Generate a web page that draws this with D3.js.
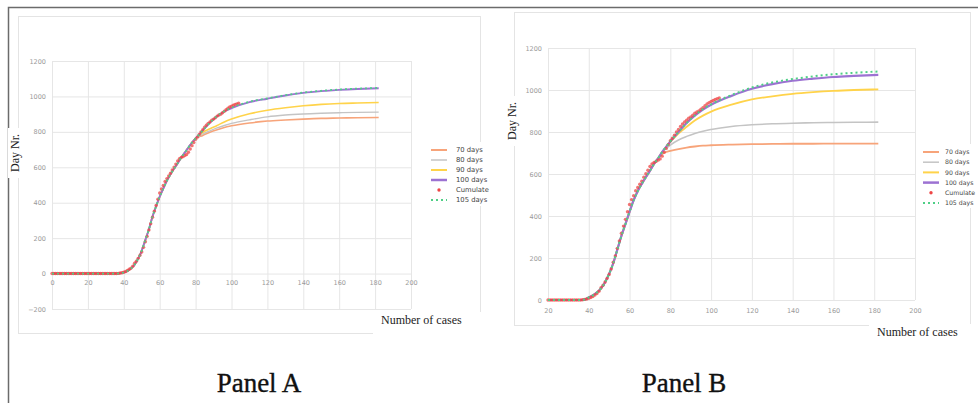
<!DOCTYPE html>
<html>
<head>
<meta charset="utf-8">
<script src="https://cdn.jsdelivr.net/npm/d3@7"></script>
<style>
  body { margin: 0; background: #fff; }
  svg { display: block; }
</style>
</head>
<body>
<svg id="chart"></svg>
<script>
// ---- data ----
const legendLabels = ['70 days', '80 days', '90 days', '100 days', 'Cumulate', '105 days'];

// panel A fitted curves (shared rise, then the tails split up)
const daysA = [0, 20, 36, 38, 40, 42, 44, 46, 48, 50, 52, 54, 56, 58, 60, 62, 64, 66, 68, 70, 72, 74, 76, 78, 80,
  84, 88, 92, 96, 100, 110, 120, 130, 140, 150, 160, 170, 182];
const riseA = [0, 0, 0, 2, 6, 14, 28, 50, 84, 130, 190, 250, 322, 380, 434, 480, 523, 560, 592, 622, 655, 683, 712, 740, 763];
const orangeA = riseA.concat([780, 798, 812, 825, 834, 850, 861, 867, 872, 876, 878, 880, 881]);
const grayA = riseA.concat([788, 806, 822, 836, 848, 868, 885, 895, 901, 905, 908, 910, 911]);
const yellowA = riseA.concat([797, 818, 836, 856, 872, 902, 922, 936, 947, 955, 960, 963, 966]);
const purpleA = riseA.concat([808, 852, 888, 915, 934, 968, 987, 1005, 1020, 1030, 1037, 1042, 1046]);
const greenA = riseA.concat([808, 852, 889, 916, 936, 970, 989, 1007, 1022, 1032, 1039, 1044, 1048]);

// panel B fitted curves
const daysB = [20, 30, 36, 38, 40, 42, 44, 46, 48, 50, 52, 54, 56, 58, 60, 62, 64, 66, 68, 70, 72, 74,
  76, 78, 80, 84, 88, 92, 96, 100, 110, 120, 130, 140, 150, 160, 170, 182];
const riseB = [0, 0, 0, 2, 12, 22, 36, 55, 85, 125, 175, 240, 305, 362, 420, 475, 518, 553, 585, 615, 648, 675];
const orangeB = riseB.concat([695, 705, 710, 719, 726, 731, 735, 737, 740, 742, 743, 744, 744, 745, 745, 745]);
const grayB = riseB.concat([702, 722, 738, 762, 779, 793, 804, 812, 826, 834, 839, 842, 844, 845, 846, 847]);
const yellowB = riseB.concat([705, 730, 753, 793, 825, 855, 878, 897, 930, 955, 970, 982, 990, 996, 1000, 1003]);
const purpleB = riseB.concat([705, 730, 755, 800, 843, 878, 907, 930, 972, 1006, 1028, 1044, 1054, 1062, 1067, 1072]);
const greenB = riseB.concat([705, 730, 755, 800, 843, 879, 909, 932, 976, 1012, 1036, 1052, 1065, 1075, 1082, 1088]);

// observed cumulative values, one per day starting at day 0
const cumulate = [0, 0, 0, 0, 0, 0, 0, 0, 0, 0, 0, 0, 0, 0, 0, 0, 0, 0, 0, 0,
  0, 0, 0, 0, 0, 0, 0, 0, 0, 0, 0, 0, 0, 0, 0, 0, 0, 1, 3, 5,
  8, 12, 17, 24, 31, 42, 58, 70, 86, 103, 122, 148, 180, 210, 246, 281, 318, 352, 384, 420,
  455, 478, 497, 520, 536, 551, 566, 585, 601, 618, 636, 648, 655, 660, 666, 672, 685, 703, 722, 740,
  758, 770, 785, 800, 812, 826, 838, 848, 856, 866, 872, 880, 889, 895, 900, 908, 916, 925, 933, 940,
  945, 950, 955, 958, 962];

const xTicksA = d3.range(0, 201, 20);
const xTicksB = d3.range(20, 201, 20);
const yTicksA = d3.range(-200, 1201, 200);
const yTicksB = d3.range(0, 1201, 200);

const colors = { orange: '#f7a47a', gray: '#c4c4c4', yellow: '#ffd34a', purple: '#9c72d2', red: '#ee4646', green: '#4fcf86' };

const width = 978, height = 403;
const svg = d3.select('#chart').attr('width', width).attr('height', height);

// outer frame (top + left edge)
svg.append('path').attr('d', `M8.5,${height} V7.5 H${width}`)
  .attr('fill', 'none').attr('stroke', '#6b6b6b').attr('stroke-width', 1.5);

function drawPanel(p) {
  const g = svg.append('g');
  const x = d3.scaleLinear().domain(p.xDomain).range([p.left, p.right]);
  const y = d3.scaleLinear().domain(p.yDomain).range([p.bottom, p.top]);

  // chart box
  g.append('rect').attr('x', p.box[0] + 0.5).attr('y', p.box[1] + 0.5)
    .attr('width', p.box[2] - p.box[0]).attr('height', p.box[3] - p.box[1])
    .attr('fill', '#fff').attr('stroke', '#e4e4e4');

  // grid
  g.append('g').attr('transform', `translate(0,${p.bottom})`)
    .call(d3.axisBottom(x).tickValues(p.xTicks).tickSize(-(p.bottom - p.top)).tickFormat(''))
    .call((a) => a.select('.domain').remove())
    .selectAll('line').attr('stroke', '#e6e6e6');
  g.append('g').attr('transform', `translate(${p.left},0)`)
    .call(d3.axisLeft(y).tickValues(p.yTicks).tickSize(-(p.right - p.left)).tickFormat(''))
    .call((a) => a.select('.domain').remove())
    .selectAll('line').attr('stroke', '#e6e6e6');

  // tick labels (x labels sit under the zero line, Excel style)
  const xl = g.append('g').attr('transform', `translate(0,${y(0)})`)
    .call(d3.axisBottom(x).tickValues(p.xTicks).tickSize(0).tickPadding(p.xPad).tickFormat(d3.format('d')));
  const yl = g.append('g').attr('transform', `translate(${p.left},0)`)
    .call(d3.axisLeft(y).tickValues(p.yTicks).tickSize(0).tickPadding(6).tickFormat(d3.format('d')));
  [xl, yl].forEach((a) => {
    a.select('.domain').remove();
    a.selectAll('text').attr('fill', '#9a9a9a').style('font-family', 'DejaVu Sans, sans-serif').style('font-size', '6.5px');
  });

  const line = d3.line().x((d) => x(d[0])).y((d) => y(d[1])).curve(d3.curveMonotoneX);
  const series = [
    { vals: p.orange, color: colors.orange, w: p.lw },
    { vals: p.gray, color: colors.gray, w: p.lw * 0.85 },
    { vals: p.yellow, color: colors.yellow, w: p.lw },
    { vals: p.purple, color: colors.purple, w: p.lw * 1.2 },
  ];
  series.forEach((s) => {
    g.append('path').datum(p.days.map((d, i) => [d, s.vals[i]]))
      .attr('d', line).attr('fill', 'none').attr('stroke', s.color).attr('stroke-width', s.w);
  });

  // cumulate dots
  const pts = cumulate.map((v, i) => [i, v]).filter((d) => d[0] >= p.xDomain[0]);
  g.append('g').selectAll('circle').data(pts).join('circle')
    .attr('cx', (d) => x(d[0])).attr('cy', (d) => y(d[1])).attr('r', 1.7)
    .attr('fill', colors.red).attr('opacity', 0.75);

  // 105 days, dashed on top
  g.append('path').datum(p.days.map((d, i) => [d, p.green[i]]))
    .attr('d', line).attr('fill', 'none').attr('stroke', colors.green)
    .attr('stroke-width', p.lw * 1.1).attr('stroke-dasharray', '2,3');

  // axis titles with white patches behind them
  g.append('rect').attr('x', p.yTitle[0] - 7).attr('y', p.yTitle[1] - 25).attr('width', 14).attr('height', 50).attr('fill', '#fff');
  g.append('text').attr('transform', `translate(${p.yTitle[0] + 4},${p.yTitle[1]}) rotate(-90)`)
    .attr('text-anchor', 'middle').text('Day Nr.')
    .style('font-family', 'Liberation Serif, serif').style('font-size', '12px').attr('fill', '#222');
  g.append('rect').attr('x', p.xTitle[0] - 8).attr('y', p.xTitle[1] - 12).attr('width', 110).attr('height', 30).attr('fill', '#fff');
  g.append('text').attr('x', p.xTitle[0]).attr('y', p.xTitle[1]).text('Number of cases')
    .style('font-family', 'Liberation Serif, serif').style('font-size', '12px').attr('fill', '#222');

  // legend
  const lg = g.append('g').attr('transform', `translate(${p.legend[0]},${p.legend[1]})`);
  lg.append('rect').attr('x', -5).attr('y', -8).attr('width', 70).attr('height', 64).attr('fill', '#fff');
  const keys = [
    { c: colors.orange, t: 'line', w: 2 }, { c: colors.gray, t: 'line', w: 1.5 }, { c: colors.yellow, t: 'line', w: 2 },
    { c: colors.purple, t: 'line', w: 2.5 }, { c: colors.red, t: 'dot' }, { c: colors.green, t: 'dash', w: 2.2 },
  ];
  keys.forEach((k, i) => {
    const yy = i * p.legendStep;
    if (k.t === 'dot') {
      lg.append('circle').attr('cx', 8).attr('cy', yy).attr('r', 1.7).attr('fill', k.c);
    } else {
      lg.append('line').attr('x1', 0).attr('x2', 16).attr('y1', yy).attr('y2', yy)
        .attr('stroke', k.c).attr('stroke-width', k.w).attr('stroke-dasharray', k.t === 'dash' ? '2,3' : null);
    }
    lg.append('text').attr('x', p.legendText).attr('y', yy).attr('dy', '0.35em').text(legendLabels[i])
      .style('font-family', 'DejaVu Sans, sans-serif').style('font-size', p.legendFont).attr('fill', '#444');
  });

  // panel caption
  svg.append('text').attr('x', p.caption[0]).attr('y', p.caption[1]).attr('text-anchor', 'middle')
    .text(p.title).style('font-family', 'Liberation Serif, serif').style('font-size', '27px')
    .attr('fill', '#111').attr('stroke', '#111').attr('stroke-width', 0.35);
}

drawPanel({
  title: 'Panel A', caption: [259, 392],
  box: [18, 16, 480, 333], left: 52, right: 411, top: 61, bottom: 309,
  xDomain: [0, 200], yDomain: [-200, 1200], xTicks: xTicksA, yTicks: yTicksA, xPad: 7,
  days: daysA, orange: orangeA, gray: grayA, yellow: yellowA, purple: purpleA, green: greenA, lw: 1.6,
  yTitle: [15, 153], xTitle: [381, 324], legend: [431, 150], legendStep: 10, legendText: 25, legendFont: '6.8px',
});

drawPanel({
  title: 'Panel B', caption: [684, 392],
  box: [514, 12, 970, 325], left: 548, right: 915, top: 48, bottom: 300,
  xDomain: [20, 200], yDomain: [0, 1200], xTicks: xTicksB, yTicks: yTicksB, xPad: 8,
  days: daysB, orange: orangeB, gray: grayB, yellow: yellowB, purple: purpleB, green: greenB, lw: 1.8,
  yTitle: [512, 121], xTitle: [877, 336], legend: [923, 152], legendStep: 10.2, legendText: 22, legendFont: '6.2px',
});
</script>
</body>
</html>
